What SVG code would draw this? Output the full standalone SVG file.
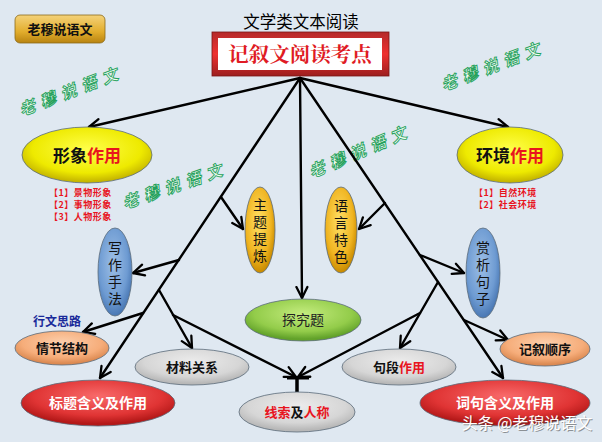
<svg xmlns="http://www.w3.org/2000/svg" width="602" height="442" viewBox="0 0 602 442">
<defs>
<style>
.cjk{font-family:"Noto Sans CJK SC","Noto Sans",sans-serif}
.ln{stroke:#000;stroke-width:2.4;fill:none;stroke-linecap:round}
.edge{stroke:#5b6b7a;stroke-width:0.8}
.lbl{font-family:"Noto Sans CJK SC","Noto Sans",sans-serif;font-weight:bold;text-anchor:middle}
.wm{font-family:"Noto Sans CJK SC","Noto Sans",sans-serif;font-weight:bold;font-style:italic;font-size:16px;letter-spacing:6px;fill:#effcf1;stroke:#25a15c;stroke-width:0.9}
.list{font-family:"Noto Sans CJK SC","Noto Sans",sans-serif;font-size:9px;letter-spacing:0.5px;font-weight:bold;fill:#e8141e}
.vt{font-family:"Noto Sans CJK SC","Noto Sans",sans-serif;font-size:14px;letter-spacing:3px;text-anchor:middle;fill:#111;writing-mode:vertical-rl}
</style>
<marker id="arr" viewBox="0 0 14 14" refX="12.5" refY="7" markerWidth="14" markerHeight="14" markerUnits="userSpaceOnUse" orient="auto">
<path d="M1.5,1.5 L12.5,7 L1.5,12.5" fill="none" stroke="#000" stroke-width="2.3" stroke-linecap="round" stroke-linejoin="round"/>
</marker>
<radialGradient id="gYel" cx="50%" cy="40%" r="60%"><stop offset="0" stop-color="#ffff4a"/><stop offset="0.7" stop-color="#eeea00"/><stop offset="1" stop-color="#bfae00"/></radialGradient>
<radialGradient id="gGold" cx="45%" cy="40%" r="60%"><stop offset="0" stop-color="#ffe066"/><stop offset="0.7" stop-color="#f0b420"/><stop offset="1" stop-color="#c88a00"/></radialGradient>
<radialGradient id="gBlue" cx="45%" cy="40%" r="60%"><stop offset="0" stop-color="#9dbfe6"/><stop offset="0.7" stop-color="#6e9bd2"/><stop offset="1" stop-color="#4a78b4"/></radialGradient>
<radialGradient id="gGreen" cx="50%" cy="35%" r="60%"><stop offset="0" stop-color="#c4ec7e"/><stop offset="0.7" stop-color="#93cc4a"/><stop offset="1" stop-color="#62a22a"/></radialGradient>
<radialGradient id="gPeach" cx="50%" cy="35%" r="60%"><stop offset="0" stop-color="#fcd0ae"/><stop offset="0.7" stop-color="#f6ad7a"/><stop offset="1" stop-color="#dc8a52"/></radialGradient>
<radialGradient id="gGrey" cx="50%" cy="35%" r="60%"><stop offset="0" stop-color="#ececec"/><stop offset="0.7" stop-color="#d6d6d6"/><stop offset="1" stop-color="#b8b8b8"/></radialGradient>
<radialGradient id="gRed" cx="50%" cy="35%" r="60%"><stop offset="0" stop-color="#f86a6a"/><stop offset="0.7" stop-color="#e03434"/><stop offset="1" stop-color="#b31818"/></radialGradient>
<linearGradient id="gBadge" x1="0" y1="0" x2="0" y2="1"><stop offset="0" stop-color="#f4d27a"/><stop offset="0.6" stop-color="#e2ad2c"/><stop offset="1" stop-color="#b88310"/></linearGradient>
<linearGradient id="gFrame" x1="0" y1="0" x2="0" y2="1"><stop offset="0" stop-color="#b52a2a"/><stop offset="0.5" stop-color="#ee3030"/><stop offset="1" stop-color="#9c1f1f"/></linearGradient>
</defs>
<rect width="602" height="442" fill="#dfe8f1"/>

<g id="watermarks">
<text class="wm" transform="translate(22,116) rotate(-21)">老穆说语文</text>
<text class="wm" transform="translate(444,91) rotate(-21)">老穆说语文</text>
<text class="wm" transform="translate(125,209) rotate(-19)">老穆说语文</text>
<text class="wm" transform="translate(312,178) rotate(-23)">老穆说语文</text>
</g>

<g id="badge">
<rect x="15" y="15" width="90" height="28" rx="5" fill="url(#gBadge)" stroke="#8a6a1a" stroke-width="0.8"/>
<text class="lbl" x="60" y="34" font-size="13" fill="#111">老穆说语文</text>
</g>

<g id="title">
<text class="cjk" x="301" y="28" font-size="16.5" text-anchor="middle" fill="#000">文学类文本阅读</text>
</g>

<g id="connectors">
<line class="ln" x1="300" y1="78" x2="89" y2="127" marker-end="url(#arr)"/>
<line class="ln" x1="300" y1="78" x2="508" y2="127" marker-end="url(#arr)"/>
<line class="ln" x1="300" y1="78" x2="100" y2="378" marker-end="url(#arr)"/>
<line class="ln" x1="300" y1="78" x2="302" y2="298" marker-end="url(#arr)"/>
<line class="ln" x1="300" y1="78" x2="503" y2="378" marker-end="url(#arr)"/>
<line class="ln" x1="221" y1="197" x2="243" y2="229" marker-end="url(#arr)"/>
<line class="ln" x1="179" y1="260" x2="133" y2="273" marker-end="url(#arr)"/>
<line class="ln" x1="159" y1="290" x2="192" y2="348" marker-end="url(#arr)"/>
<line class="ln" x1="173" y1="315" x2="296" y2="377" marker-end="url(#arr)"/>
<line class="ln" x1="143" y1="313" x2="83" y2="332" marker-end="url(#arr)"/>
<line class="ln" x1="385" y1="203" x2="359" y2="229" marker-end="url(#arr)"/>
<line class="ln" x1="420" y1="255" x2="464" y2="273" marker-end="url(#arr)"/>
<line class="ln" x1="438" y1="282" x2="400" y2="348" marker-end="url(#arr)"/>
<line class="ln" x1="420" y1="313" x2="298" y2="377" marker-end="url(#arr)"/>
<line class="ln" x1="464" y1="320" x2="508" y2="340" marker-end="url(#arr)"/>
<line x1="287" y1="378" x2="309" y2="378" stroke="#000" stroke-width="3"/>
<line x1="297" y1="378" x2="297" y2="393" stroke="#000" stroke-width="3.5"/>
</g>

<g id="root">
<rect x="212" y="32" width="177" height="44" fill="url(#gFrame)" stroke="#7a1515" stroke-width="0.8"/>
<rect x="218" y="38" width="164" height="32" fill="#ffffff"/>
<text x="300" y="62" font-family="'Noto Serif CJK SC','Noto Sans CJK SC',serif" font-size="20.5" font-weight="bold" text-anchor="middle" fill="#e01b24">记叙文阅读考点</text>
</g>

<g id="n-xingxiang">
<ellipse cx="87" cy="155" rx="65" ry="28" fill="url(#gYel)" class="edge"/>
<text class="lbl" x="87" y="162" font-size="17" fill="#111">形象<tspan fill="#e8141e">作用</tspan></text>
<text class="list" x="49" y="196">【1】景物形象</text>
<text class="list" x="49" y="208">【2】事物形象</text>
<text class="list" x="49" y="220">【3】人物形象</text>
</g>

<g id="n-huanjing">
<ellipse cx="510" cy="155" rx="53" ry="28" fill="url(#gYel)" class="edge"/>
<text class="lbl" x="510" y="162" font-size="17" fill="#111">环境<tspan fill="#e8141e">作用</tspan></text>
<text class="list" x="474" y="196">【1】自然环境</text>
<text class="list" x="474" y="208">【2】社会环境</text>
</g>

<g id="n-zhuti">
<ellipse cx="260" cy="230" rx="15" ry="43" fill="url(#gGold)" class="edge"/>
<text class="vt" x="260" y="232">主题提炼</text>
</g>

<g id="n-yuyan">
<ellipse cx="341" cy="230" rx="16" ry="43" fill="url(#gGold)" class="edge"/>
<text class="vt" x="341" y="233">语言特色</text>
</g>

<g id="n-xiezuo">
<ellipse cx="115" cy="272" rx="17" ry="44" fill="url(#gBlue)" class="edge"/>
<text class="vt" x="115" y="275">写作手法</text>
</g>

<g id="n-shangxi">
<ellipse cx="483" cy="273" rx="17" ry="45" fill="url(#gBlue)" class="edge"/>
<text class="vt" x="483" y="275">赏析句子</text>
</g>

<g id="n-tanjiu">
<ellipse cx="303" cy="320" rx="58" ry="21" fill="url(#gGreen)" class="edge"/>
<text class="cjk" x="303" y="325" font-size="14" text-anchor="middle" fill="#222">探究题</text>
</g>

<g id="n-qingjie">
<text class="lbl" x="57" y="326" font-size="12" fill="#1a2a9a">行文思路</text>
<ellipse cx="62" cy="348" rx="47" ry="17" fill="url(#gPeach)" class="edge"/>
<text class="lbl" x="62" y="353" font-size="13" fill="#111">情节结构</text>
</g>

<g id="n-cailiao">
<ellipse cx="192" cy="367" rx="57" ry="18" fill="url(#gGrey)" class="edge"/>
<text class="lbl" x="192" y="372" font-size="13" fill="#111">材料关系</text>
</g>

<g id="n-biaoti">
<ellipse cx="98" cy="403" rx="77" ry="23" fill="url(#gRed)" class="edge"/>
<text class="lbl" x="98" y="408" font-size="14" fill="#ffffff">标题含义及作用</text>
</g>

<g id="n-xiansuo">
<ellipse cx="297" cy="412" rx="58" ry="20" fill="url(#gGrey)" class="edge"/>
<text class="lbl" x="297" y="417" font-size="13" fill="#111"><tspan fill="#e8141e">线索</tspan>及<tspan fill="#e8141e">人称</tspan></text>
</g>

<g id="n-juduan">
<ellipse cx="399" cy="367" rx="57" ry="18" fill="url(#gGrey)" class="edge"/>
<text class="lbl" x="399" y="372" font-size="13" fill="#111">句段<tspan fill="#e8141e">作用</tspan></text>
</g>

<g id="n-shunxu">
<ellipse cx="545" cy="349" rx="45" ry="17" fill="url(#gPeach)" class="edge"/>
<text class="lbl" x="545" y="354" font-size="13" fill="#111">记叙顺序</text>
</g>

<g id="n-ciju">
<ellipse cx="505" cy="403" rx="85" ry="23" fill="url(#gRed)" class="edge"/>
<text class="lbl" x="505" y="408" font-size="14" fill="#ffffff">词句含义及作用</text>
</g>

<g id="watermark-bottom">
<text class="cjk" x="527" y="429" font-size="16" text-anchor="middle" fill="#3a3a3a" opacity="0.5" transform="translate(1,1)">头条 @老穆说语文</text>
<text class="cjk" x="527" y="429" font-size="16" text-anchor="middle" fill="#ffffff">头条 @老穆说语文</text>
</g>
</svg>
